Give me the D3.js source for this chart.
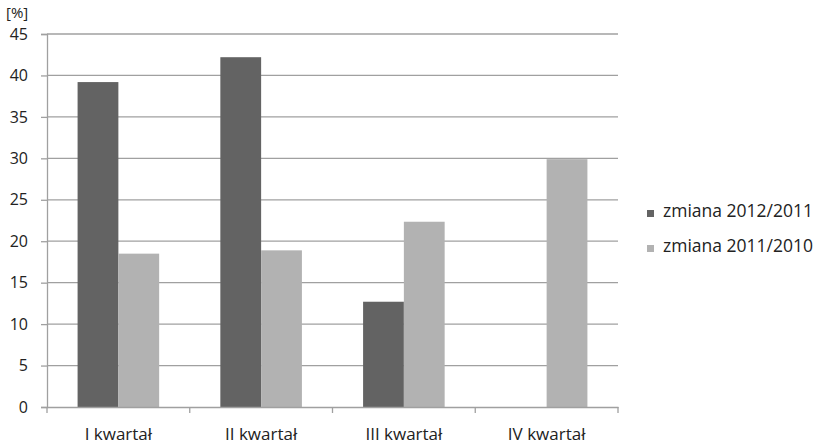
<!DOCTYPE html>
<html><head><meta charset="utf-8">
<script src="https://cdn.jsdelivr.net/npm/d3@7"></script>
<style>body{margin:0;background:#fff}text{font-family:"Open Sans",sans-serif;fill:#222}</style>
</head><body><svg id="c" width="821" height="446"></svg>
<script>
const categories = ["I kwartał","II kwartał","III kwartał","IV kwartał"];
const seriesNames = ["zmiana 2012/2011","zmiana 2011/2010"];
const series2012 = [39.2, 42.2, 12.7, 0];
const series2011 = [18.5, 18.9, 22.35, 29.9];
const yTicks = [0,5,10,15,20,25,30,35,40,45];
const colors = ["#636363","#b2b2b2"];

const svg = d3.select("#c");
const L=47, R=618, T=34, B=407;
const x0 = d3.scaleBand().domain(categories).range([L,R]).padding(0);
const x1 = d3.scaleBand().domain(seriesNames).range([0,x0.bandwidth()]).paddingInner(0).paddingOuter(0.75);
const y = d3.scaleLinear().domain([0,45]).range([B,T]);

// gridlines
svg.append("g").selectAll("line").data(yTicks.filter(d=>d>0)).join("line")
  .attr("x1",L).attr("x2",R).attr("y1",d=>y(d)).attr("y2",d=>y(d))
  .attr("stroke","#a0a0a0").attr("stroke-width",1.3);

const data = categories.map((c,i)=>({c, vals:[series2012[i],series2011[i]]}));
const g = svg.append("g");
data.forEach(d=>{
  d.vals.forEach((v,j)=>{
    if(!v) return;
    g.append("rect").attr("x",x0(d.c)+x1(seriesNames[j])).attr("width",x1.bandwidth())
      .attr("y",y(v)).attr("height",y(0)-y(v)).attr("fill",colors[j]);
  });
});

// y axis
const ya = svg.append("g").attr("transform",`translate(${L},0)`)
  .call(d3.axisLeft(y).tickValues(yTicks).tickSize(6).tickPadding(13));
ya.select(".domain").attr("stroke","#a0a0a0").attr("stroke-width",1.3);
ya.selectAll(".tick line").attr("stroke","#a0a0a0").attr("stroke-width",1.3);
ya.selectAll("text").attr("font-size",16).attr("fill","#222").attr("font-family","Open Sans");

// x axis
const xa = svg.append("g").attr("transform",`translate(0,${B})`)
  .call(d3.axisBottom(x0).tickSize(0).tickPadding(21));
xa.select(".domain").attr("stroke","#a0a0a0").attr("stroke-width",1.3);
xa.selectAll("text").attr("font-size",17).attr("fill","#222").attr("font-family","Open Sans");
svg.append("g").selectAll("line").data(categories.map(c=>x0(c)).concat([R])).join("line")
  .attr("x1",d=>d).attr("x2",d=>d).attr("y1",B).attr("y2",B+6)
  .attr("stroke","#a0a0a0").attr("stroke-width",1.3);

svg.append("text").attr("x",6).attr("y",18).attr("font-size",15).text("[%]");

// legend
const lg = svg.append("g").attr("transform","translate(647,0)");
seriesNames.forEach((s,i)=>{
  const yy = 217 + i*35;
  lg.append("rect").attr("x",0).attr("y",yy-7).attr("width",7).attr("height",7).attr("fill",colors[i]);
  lg.append("text").attr("x",16).attr("y",yy).attr("font-size",17.5).text(s);
});
</script></body></html>
